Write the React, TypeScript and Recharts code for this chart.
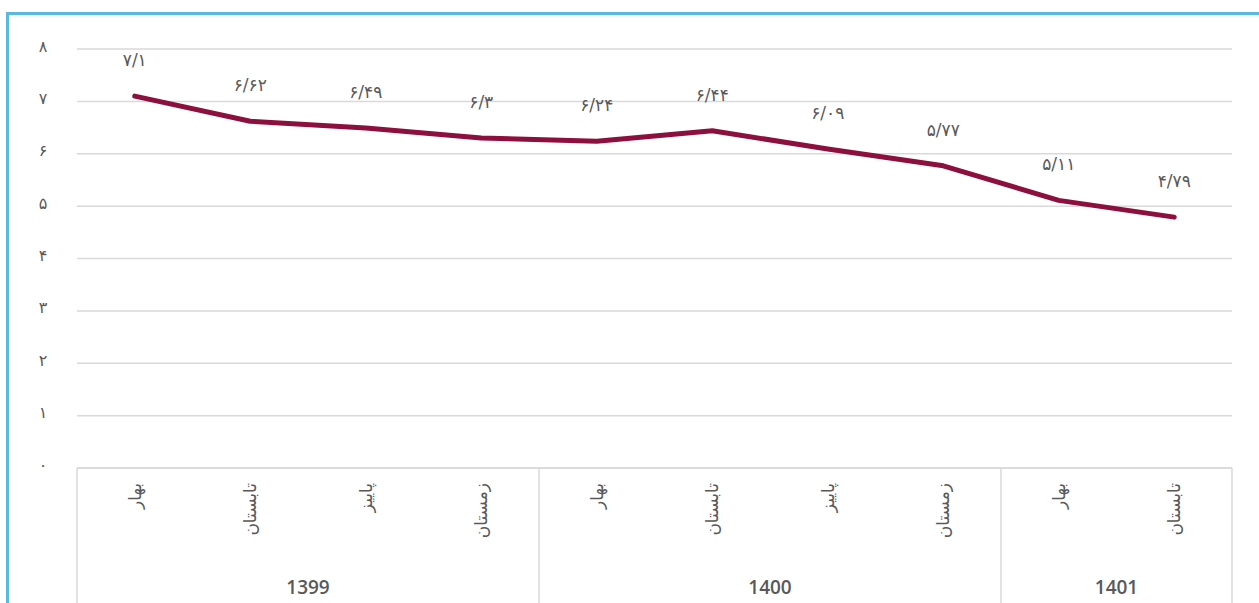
import React from 'react';
import { LineChart, Line, XAxis, YAxis, CartesianGrid, LabelList } from 'recharts';

const categories = ['بهار', 'تابستان', 'پاییز', 'زمستان', 'بهار', 'تابستان', 'پاییز', 'زمستان', 'بهار', 'تابستان'];
const values = [7.1, 6.62, 6.49, 6.3, 6.24, 6.44, 6.09, 5.77, 5.11, 4.79];
const valueLabels = ['۷/۱', '۶/۶۲', '۶/۴۹', '۶/۳', '۶/۲۴', '۶/۴۴', '۶/۰۹', '۵/۷۷', '۵/۱۱', '۴/۷۹'];
const years = ['1399', '1400', '1401'];
const yearSizes = [4, 4, 2];
const yTicks = [0, 1, 2, 3, 4, 5, 6, 7, 8];
const yTickLabels = ['۰', '۱', '۲', '۳', '۴', '۵', '۶', '۷', '۸'];

const data = categories.map((c, i) => ({ key: String(i), season: c, value: values[i], label: valueLabels[i] }));

// index of the first category of each year group
const groupStarts: number[] = [];
yearSizes.reduce((acc, s) => {
  groupStarts.push(acc);
  return acc + s;
}, 0);

const W = 1259;
const H = 603;
const PLOT_TOP = 49;
const AXIS_H = 135;
const PLOT_BOTTOM = H - AXIS_H;
const GRAY = '#595959';
const GRID = '#d9d9d9';
const FA_FONT = '"DejaVu Sans", sans-serif';

const SeasonTick = (props: any) => {
  const { x, payload, width } = props;
  const idx = Number(payload.value);
  const band = (Number(width) || 1155) / categories.length;
  const ty = PLOT_BOTTOM + 15;
  const gi = groupStarts.indexOf(idx);
  const left = x - band / 2;
  return (
    <g>
      {gi >= 0 && (
        <g>
          <line x1={left} x2={left} y1={PLOT_BOTTOM} y2={H} stroke={GRID} strokeWidth={1.5} />
          <text
            x={left + (yearSizes[gi] * band) / 2}
            y={H - 9}
            textAnchor="middle"
            fontSize={19}
            fontWeight={600}
            fontFamily='"Open Sans", sans-serif'
            fill={GRAY}
          >
            {years[gi]}
          </text>
        </g>
      )}
      {idx === categories.length - 1 && (
        <line x1={x + band / 2} x2={x + band / 2} y1={PLOT_BOTTOM} y2={H} stroke={GRID} strokeWidth={1.5} />
      )}
      <text
        x={x}
        y={ty}
        transform={`rotate(-90, ${x}, ${ty})`}
        textAnchor="end"
        dominantBaseline="central"
        fontSize={17}
        fontFamily={FA_FONT}
        fill={GRAY}
      >
        {categories[idx]}
      </text>
    </g>
  );
};

const YTick = (props: any) => {
  const { y, payload } = props;
  const i = yTicks.indexOf(Number(payload.value));
  return (
    <text x={43} y={y} dy={-3} textAnchor="middle" dominantBaseline="central" fontSize={16} fontFamily={FA_FONT} fill={GRAY}>
      {yTickLabels[i]}
    </text>
  );
};

const ValueLabel = (props: any) => {
  const { x, y, index } = props;
  return (
    <text x={x} y={y - 36} textAnchor="middle" dominantBaseline="central" fontSize={17} fontFamily={FA_FONT} fill={GRAY}>
      {valueLabels[index]}
    </text>
  );
};

export default function App() {
  return (
    <div style={{ position: 'absolute', left: 0, top: 0, width: W, height: H, background: '#fff', overflow: 'hidden' }}>
      <div
        style={{
          position: 'absolute',
          left: 6,
          top: 12,
          width: W,
          height: H,
          borderTop: '3px solid #5BB9E1',
          borderLeft: '3px solid #5BB9E1',
        }}
      />
      <LineChart
        width={W}
        height={H}
        data={data}
        margin={{ top: PLOT_TOP, right: 27, bottom: 0, left: 0 }}
        style={{ position: 'absolute', left: 0, top: 0 }}
      >
        <CartesianGrid vertical={false} stroke={GRID} strokeWidth={1.5} />
        <XAxis
          dataKey="key"
          type="category"
          height={AXIS_H}
          padding={{ left: 57.75, right: 57.75 }}
          axisLine={{ stroke: GRID, strokeWidth: 1.5 }}
          tickLine={false}
          interval={0}
          tick={<SeasonTick />}
        />
        <YAxis
          width={77}
          domain={[0, 8]}
          ticks={yTicks}
          interval={0}
          axisLine={false}
          tickLine={false}
          tick={<YTick />}
        />
        <Line
          type="linear"
          dataKey="value"
          stroke="#8C0F3E"
          strokeWidth={5}
          strokeLinecap="round"
          strokeLinejoin="round"
          dot={false}
          activeDot={false}
          isAnimationActive={false}
        >
          <LabelList dataKey="label" content={<ValueLabel />} />
        </Line>
      </LineChart>
    </div>
  );
}
